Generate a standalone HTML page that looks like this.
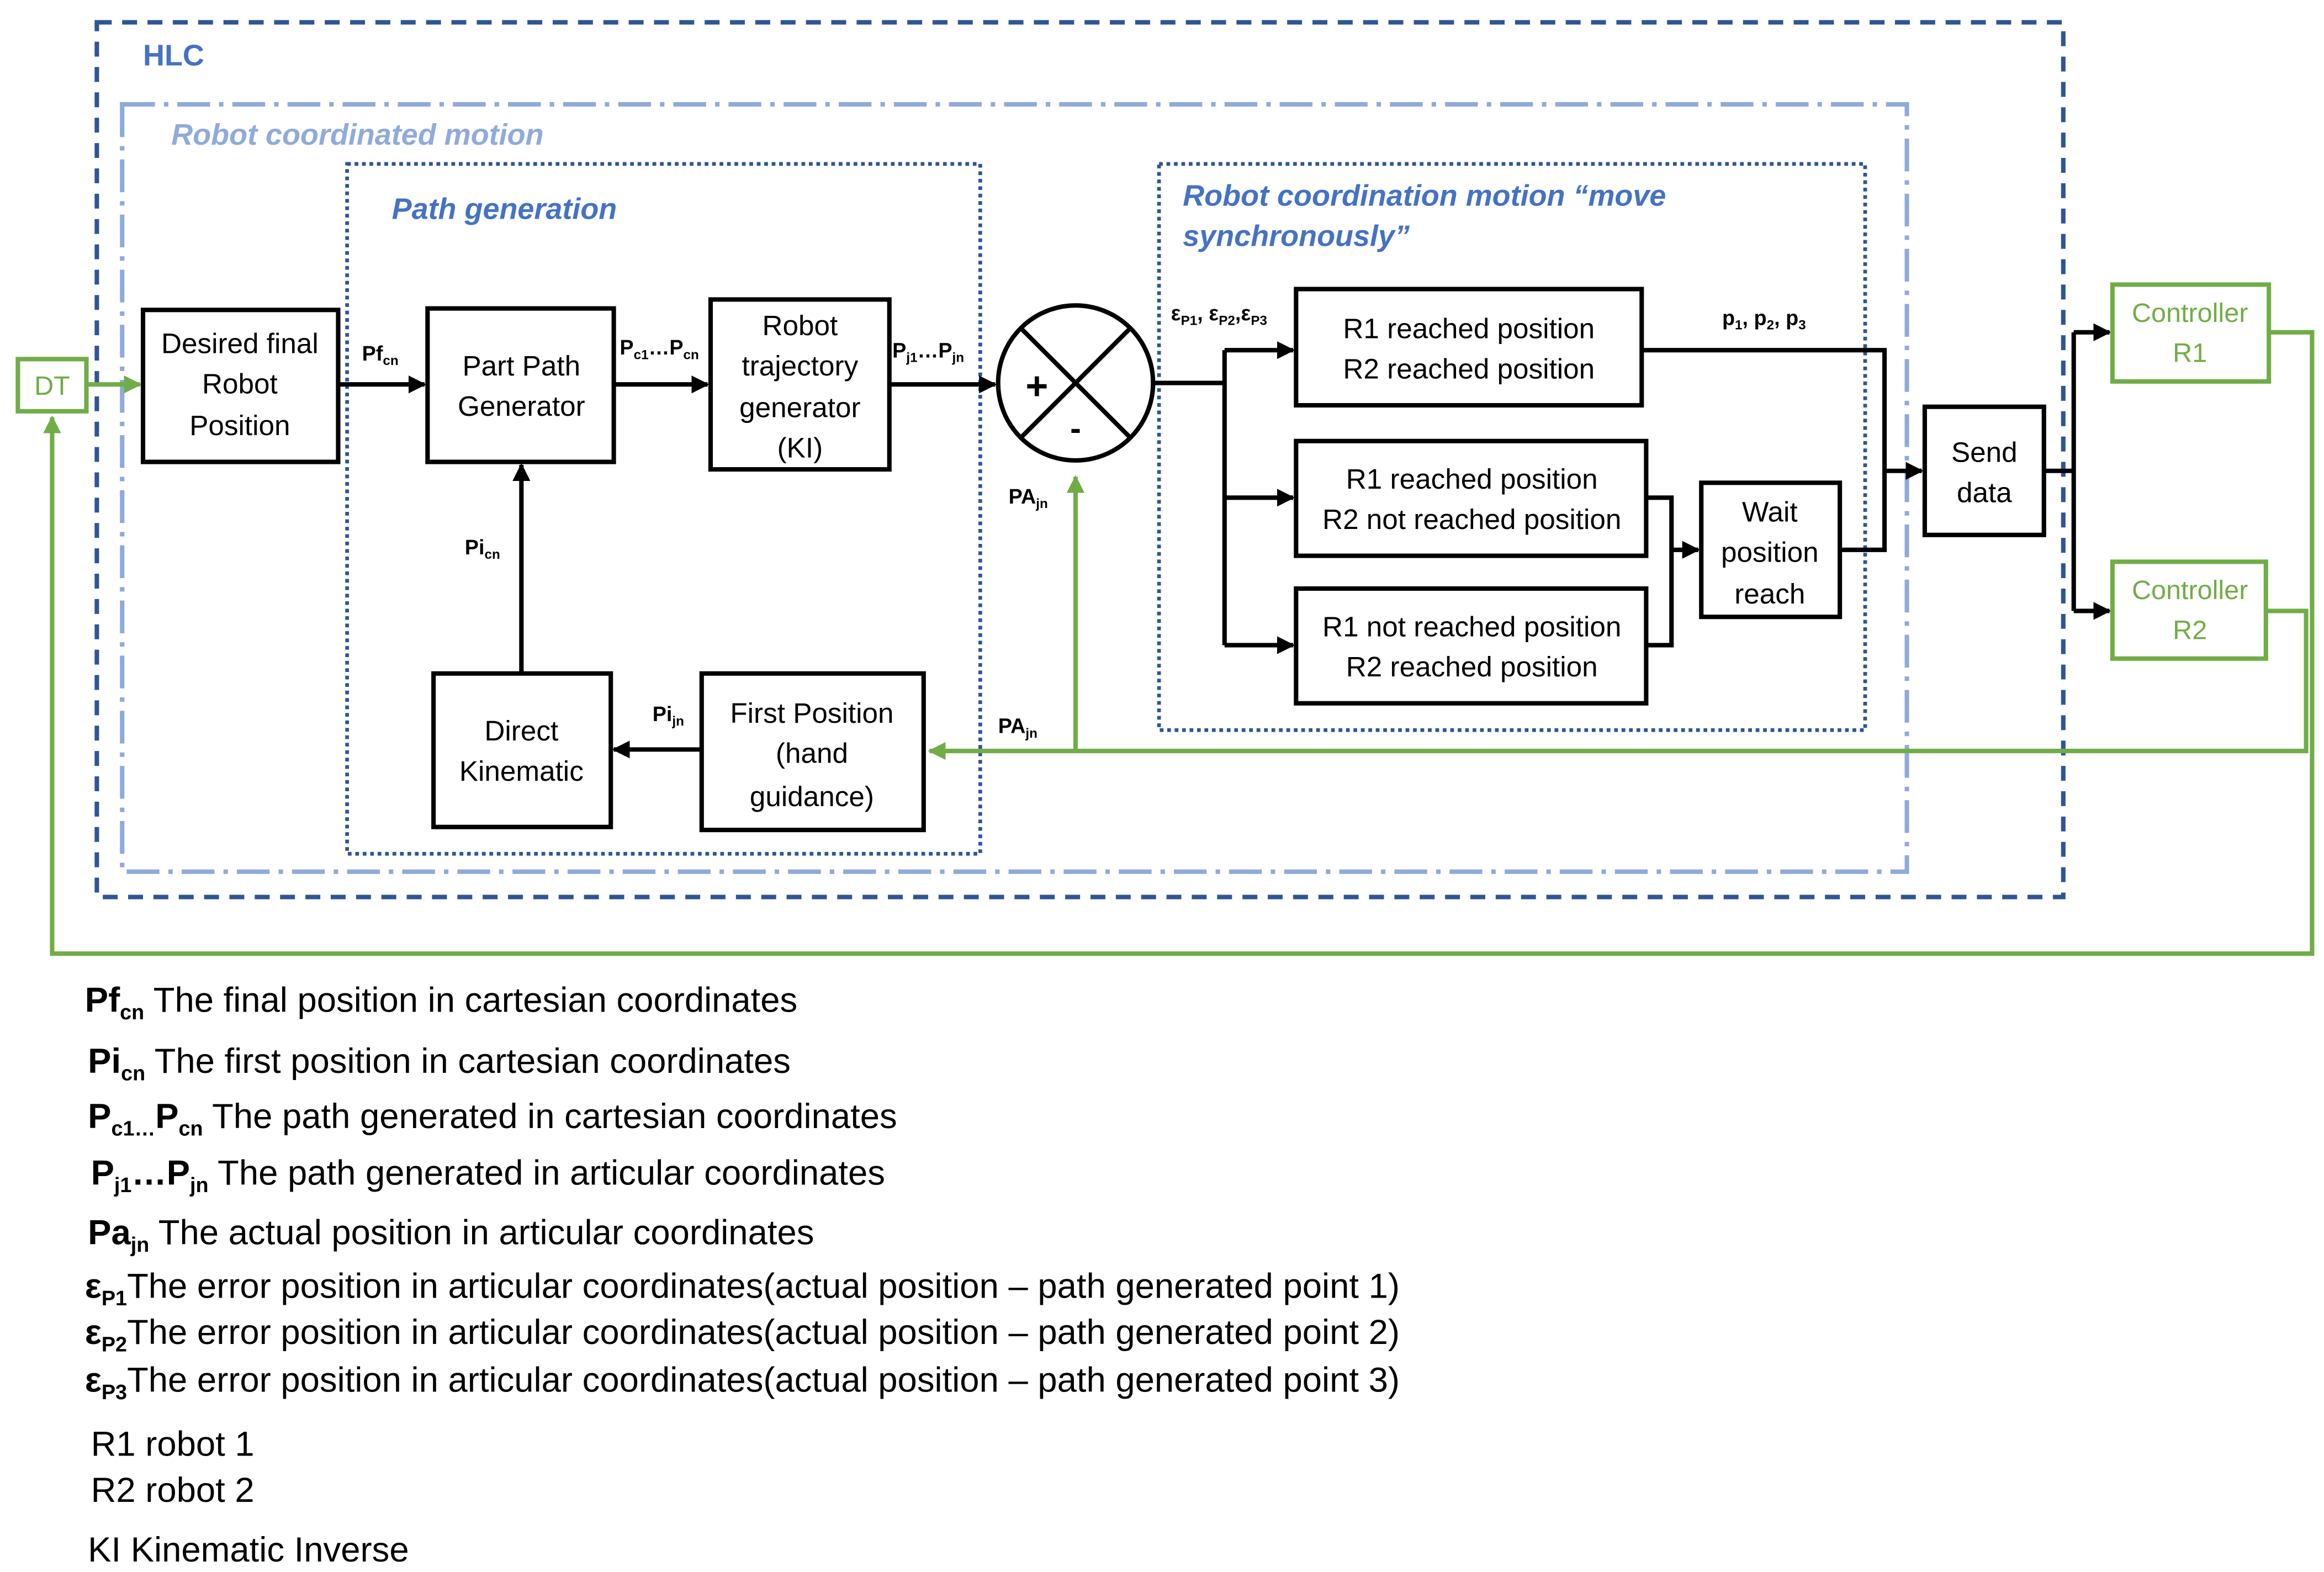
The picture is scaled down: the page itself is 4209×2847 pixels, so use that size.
<!DOCTYPE html>
<html><head><meta charset="utf-8"><style>
html,body{margin:0;padding:0;background:#fff;}
svg{display:block;}
text{font-family:"Liberation Sans",sans-serif;}
</style></head><body>
<svg width="4209" height="2847" viewBox="0 0 1560 1055" preserveAspectRatio="none" xmlns="http://www.w3.org/2000/svg">
<defs>
<marker id="ab" viewBox="0 0 10 10" refX="9" refY="5" markerWidth="4" markerHeight="4" orient="auto"><path d="M0,0 L10,5 L0,10 z" fill="#000"/></marker>
<marker id="ag" viewBox="0 0 10 10" refX="9" refY="5" markerWidth="4" markerHeight="4" orient="auto"><path d="M0,0 L10,5 L0,10 z" fill="#70ad47"/></marker>
</defs>
<rect x="65" y="15" width="1320" height="587" fill="none" stroke="#2f5597" stroke-width="3" stroke-dasharray="10,7"/>
<text x="96" y="44" font-size="20" font-weight="bold" fill="#4472c4">HLC</text>
<rect x="82" y="70" width="1198" height="515" fill="none" stroke="#8faadc" stroke-width="3" stroke-dasharray="22,6,3,6"/>
<text x="115" y="97" font-size="20" font-weight="bold" font-style="italic" fill="#8faadc">Robot coordinated motion</text>
<rect x="233" y="110" width="425" height="463" fill="none" stroke="#2f5597" stroke-width="2.5" stroke-dasharray="2.5,2.5"/>
<text x="263" y="147" font-size="20" font-weight="bold" font-style="italic" fill="#4472c4">Path generation</text>
<rect x="778" y="110" width="474" height="380" fill="none" stroke="#2f5597" stroke-width="2.5" stroke-dasharray="2.5,2.5"/>
<text x="794" y="138" font-size="20" font-weight="bold" font-style="italic" fill="#4472c4">Robot coordination motion “move</text>
<text x="794" y="165" font-size="20" font-weight="bold" font-style="italic" fill="#4472c4">synchronously”</text>

<g stroke="#70ad47" stroke-width="3" fill="none">
<polyline points="1523,223 1552,223 1552,640 35,640 35,280" marker-end="url(#ag)"/>
<polyline points="1521,410 1548,410 1548,504 624,504" marker-end="url(#ag)"/>
<line x1="722" y1="504" x2="722" y2="320" marker-end="url(#ag)"/>
<line x1="58" y1="258" x2="94" y2="258" marker-end="url(#ag)"/>
</g>

<g stroke="#000" stroke-width="3" fill="none">
<line x1="227" y1="258" x2="285" y2="258" marker-end="url(#ab)"/>
<line x1="412" y1="258" x2="475" y2="258" marker-end="url(#ab)"/>
<line x1="597" y1="258" x2="668" y2="258" marker-end="url(#ab)"/>
<polyline points="774,257 822,257"/>
<line x1="822" y1="235" x2="822" y2="433"/>
<line x1="822" y1="235" x2="868" y2="235" marker-end="url(#ab)"/>
<line x1="822" y1="334" x2="868" y2="334" marker-end="url(#ab)"/>
<line x1="822" y1="433" x2="868" y2="433" marker-end="url(#ab)"/>
<polyline points="1102,235 1265,235 1265,369 1235,369"/>
<line x1="1265" y1="316" x2="1290" y2="316" marker-end="url(#ab)"/>
<polyline points="1105,334 1122,334 1122,433 1105,433"/>
<line x1="1122" y1="369" x2="1140" y2="369" marker-end="url(#ab)"/>
<polyline points="1372,316 1392,316"/>
<line x1="1392" y1="223" x2="1392" y2="410"/>
<line x1="1392" y1="223" x2="1416" y2="223" marker-end="url(#ab)"/>
<line x1="1392" y1="410" x2="1416" y2="410" marker-end="url(#ab)"/>
<line x1="350" y1="452" x2="350" y2="312" marker-end="url(#ab)"/>
<line x1="471" y1="503" x2="412" y2="503" marker-end="url(#ab)"/>
</g>

<g stroke="#000" stroke-width="3" fill="#fff">
<rect x="96" y="208" width="131" height="102"/>
<rect x="287" y="207" width="125" height="103"/>
<rect x="477" y="201" width="120" height="114"/>
<rect x="870" y="194" width="232" height="78"/>
<rect x="870" y="296" width="235" height="77"/>
<rect x="870" y="395" width="235" height="77"/>
<rect x="1142" y="324" width="93" height="90"/>
<rect x="1292" y="273" width="80" height="86"/>
<rect x="291" y="452" width="119" height="103"/>
<rect x="471" y="452" width="149" height="105"/>
</g>
<circle cx="722" cy="257" r="52" fill="#fff" stroke="#000" stroke-width="3"/>
<line x1="685" y1="220" x2="759" y2="294" stroke="#000" stroke-width="3"/>
<line x1="759" y1="220" x2="685" y2="294" stroke="#000" stroke-width="3"/>
<text x="696" y="268" font-size="26" font-weight="bold" text-anchor="middle">+</text>
<text x="722" y="295" font-size="22" font-weight="bold" text-anchor="middle">-</text>

<g stroke="#70ad47" stroke-width="3" fill="#fff">
<rect x="12" y="241" width="46" height="35"/>
<rect x="1418" y="191" width="105" height="65"/>
<rect x="1418" y="377" width="103" height="65"/>
</g>
<g font-size="18" fill="#70ad47" text-anchor="middle">
<text x="35" y="265">DT</text>
<text x="1470" y="216">Controller</text><text x="1470" y="243">R1</text>
<text x="1470" y="402">Controller</text><text x="1470" y="429">R2</text>
</g>

<g font-size="19" text-anchor="middle" fill="#000">
<text x="161" y="237">Desired final</text><text x="161" y="264">Robot</text><text x="161" y="292">Position</text>
<text x="350" y="252">Part Path</text><text x="350" y="279">Generator</text>
<text x="537" y="225">Robot</text><text x="537" y="252">trajectory</text><text x="537" y="280">generator</text><text x="537" y="307">(KI)</text>
<text x="986" y="227">R1 reached position</text><text x="986" y="254">R2 reached position</text>
<text x="988" y="328">R1 reached position</text><text x="988" y="355">R2 not reached position</text>
<text x="988" y="427">R1 not reached position</text><text x="988" y="454">R2 reached position</text>
<text x="1188" y="350">Wait</text><text x="1188" y="377">position</text><text x="1188" y="405">reach</text>
<text x="1332" y="310">Send</text><text x="1332" y="337">data</text>
<text x="350" y="497">Direct</text><text x="350" y="524">Kinematic</text>
<text x="545" y="485">First Position</text><text x="545" y="512">(hand</text><text x="545" y="541">guidance)</text>
</g>

<g font-size="14" font-weight="bold" fill="#000">
<text x="243" y="242">Pf<tspan font-size="9" dy="3">cn</tspan></text>
<text x="416" y="238">P<tspan font-size="9" dy="3">c1</tspan><tspan dy="-3">…P</tspan><tspan font-size="9" dy="3">cn</tspan></text>
<text x="599" y="240">P<tspan font-size="9" dy="3">j1</tspan><tspan dy="-3">…P</tspan><tspan font-size="9" dy="3">jn</tspan></text>
<text x="677" y="338">PA<tspan font-size="9" dy="3">jn</tspan></text>
<text x="670" y="492">PA<tspan font-size="9" dy="3">jn</tspan></text>
<text x="312" y="372">Pi<tspan font-size="9" dy="3">cn</tspan></text>
<text x="438" y="484">Pi<tspan font-size="9" dy="3">jn</tspan></text>
<text x="786" y="215">ε<tspan font-size="9" dy="3">P1</tspan><tspan dy="-3">, ε</tspan><tspan font-size="9" dy="3">P2</tspan><tspan dy="-3">,ε</tspan><tspan font-size="9" dy="3">P3</tspan></text>
<text x="1156" y="218">p<tspan font-size="9" dy="3">1</tspan><tspan dy="-3">, p</tspan><tspan font-size="9" dy="3">2</tspan><tspan dy="-3">, p</tspan><tspan font-size="9" dy="3">3</tspan></text>
</g>

<g font-size="23.5" fill="#000">
<text x="57" y="679"><tspan font-weight="bold">Pf</tspan><tspan font-weight="bold" font-size="14" dy="5">cn</tspan><tspan dy="-5"> The final position in cartesian coordinates</tspan></text>
<text x="59" y="720"><tspan font-weight="bold">Pi</tspan><tspan font-weight="bold" font-size="14" dy="5">cn</tspan><tspan dy="-5"> The first position in cartesian coordinates</tspan></text>
<text x="59" y="757"><tspan font-weight="bold">P</tspan><tspan font-weight="bold" font-size="14" dy="5">c1…</tspan><tspan font-weight="bold" dy="-5">P</tspan><tspan font-weight="bold" font-size="14" dy="5">cn</tspan><tspan dy="-5"> The path generated in cartesian coordinates</tspan></text>
<text x="61" y="795"><tspan font-weight="bold">P</tspan><tspan font-weight="bold" font-size="14" dy="5">j1</tspan><tspan font-weight="bold" dy="-5">…P</tspan><tspan font-weight="bold" font-size="14" dy="5">jn</tspan><tspan dy="-5"> The path generated in articular coordinates</tspan></text>
<text x="59" y="835"><tspan font-weight="bold">Pa</tspan><tspan font-weight="bold" font-size="14" dy="5">jn</tspan><tspan dy="-5"> The actual position in articular coordinates</tspan></text>
<text x="57" y="871"><tspan font-weight="bold">ε</tspan><tspan font-weight="bold" font-size="14" dy="5">P1</tspan><tspan dy="-5">The error position in articular coordinates(actual position – path generated point 1)</tspan></text>
<text x="57" y="902"><tspan font-weight="bold">ε</tspan><tspan font-weight="bold" font-size="14" dy="5">P2</tspan><tspan dy="-5">The error position in articular coordinates(actual position – path generated point 2)</tspan></text>
<text x="57" y="934"><tspan font-weight="bold">ε</tspan><tspan font-weight="bold" font-size="14" dy="5">P3</tspan><tspan dy="-5">The error position in articular coordinates(actual position – path generated point 3)</tspan></text>
<text x="61" y="977">R1 robot 1</text>
<text x="61" y="1008">R2 robot 2</text>
<text x="59" y="1048">KI Kinematic Inverse</text>
</g>
</svg>
</body></html>
